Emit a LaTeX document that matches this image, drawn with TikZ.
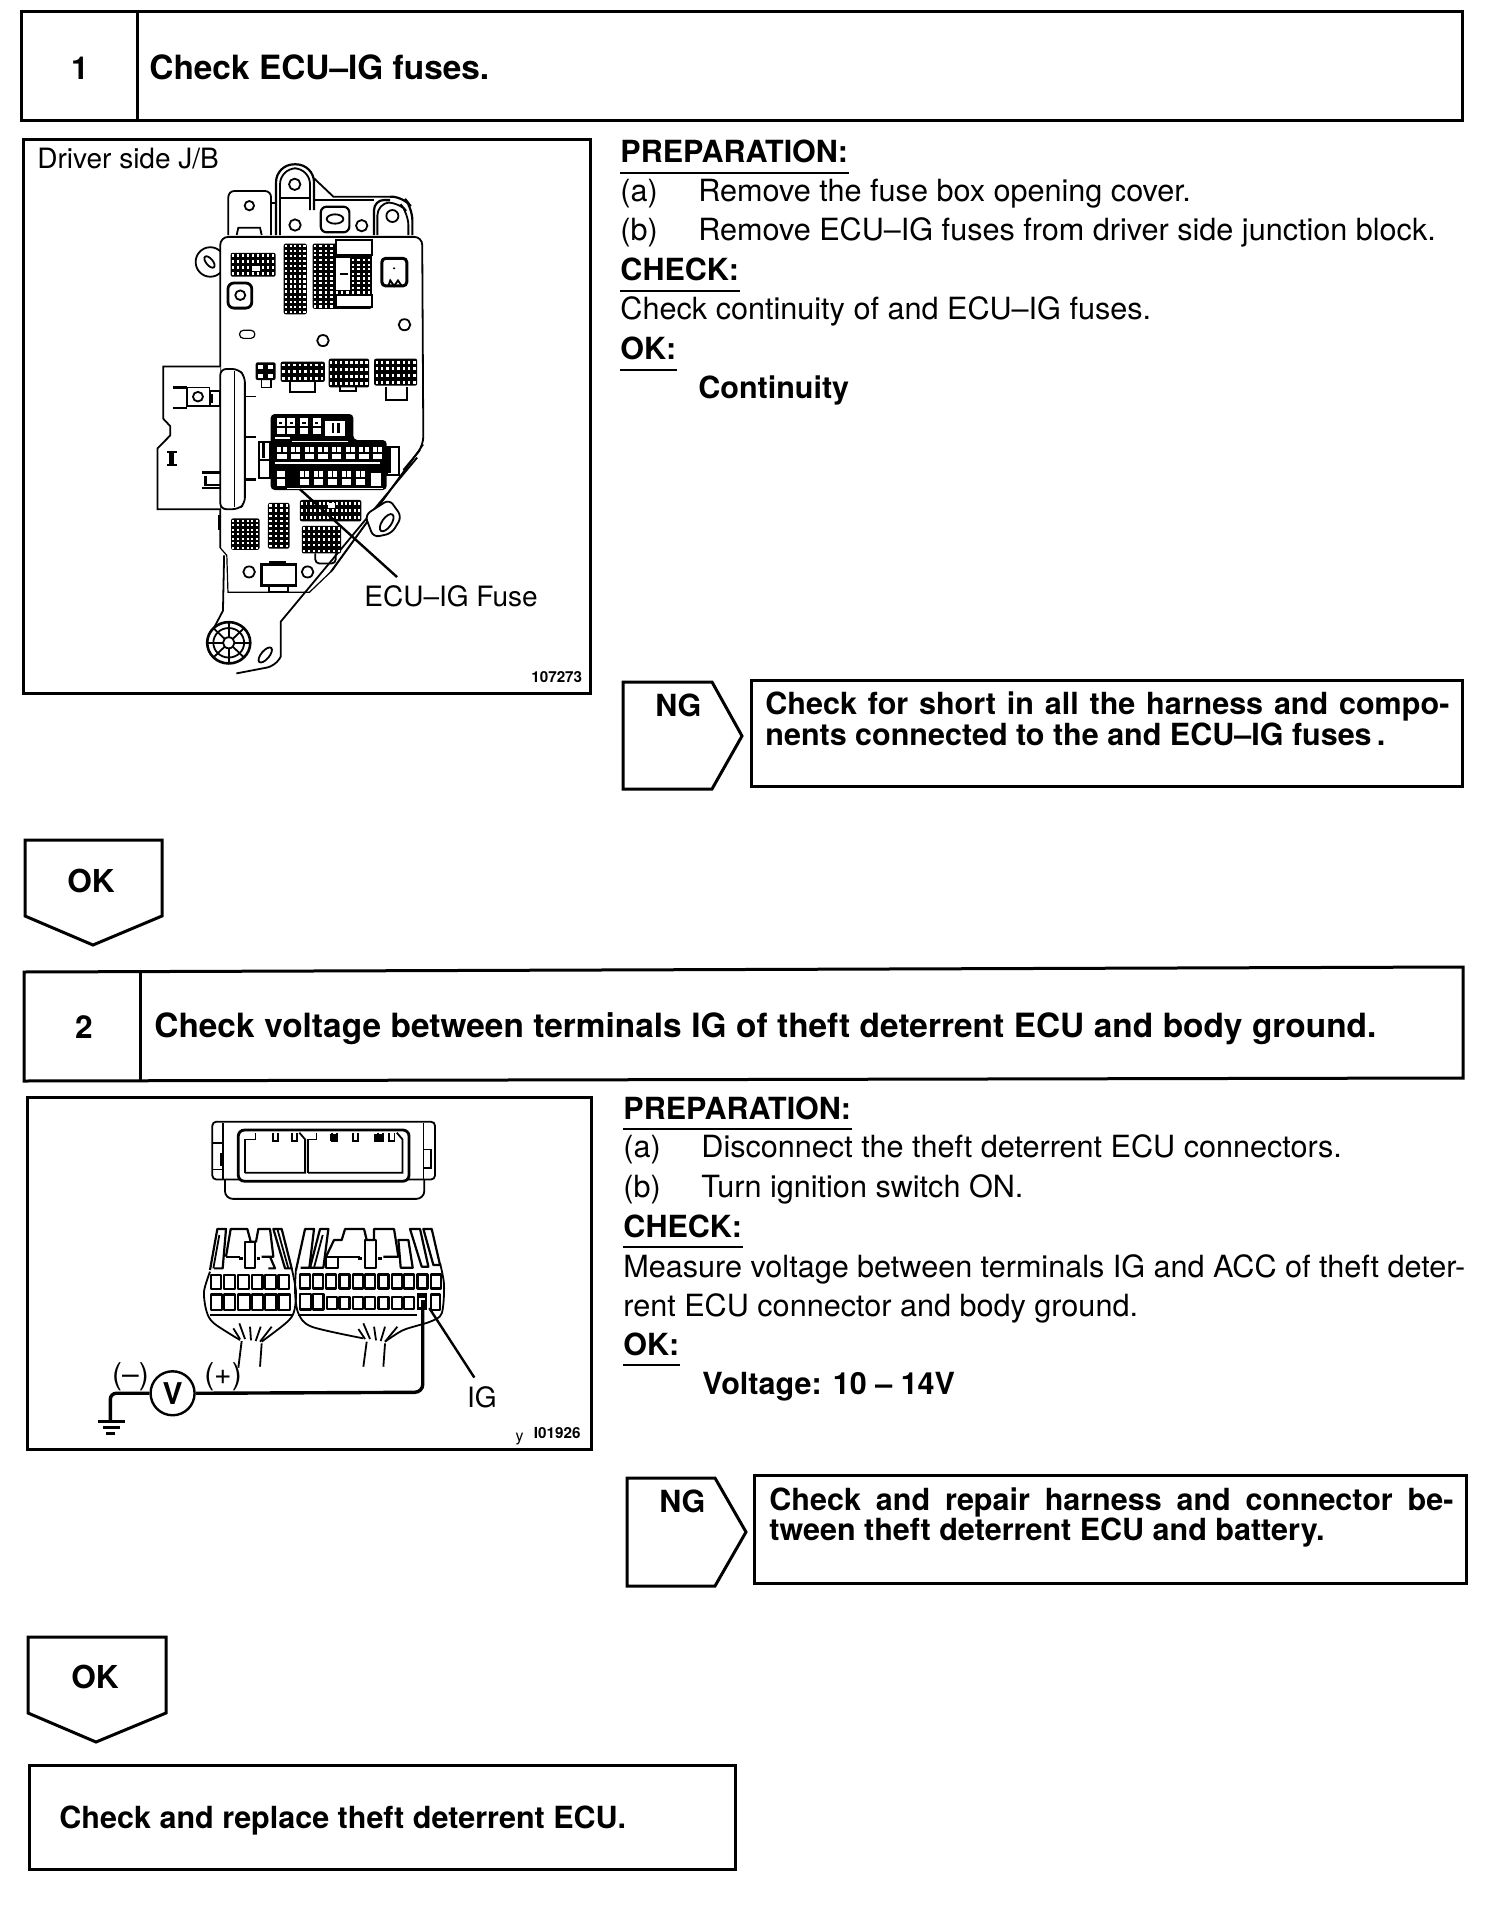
\documentclass[tikz,border=0pt]{standalone}
\usepackage{fontspec}
\usetikzlibrary{shapes.geometric}
\setmainfont{TeX Gyre Heros}
\newcommand{\conblock}[6]{%
 \fill[black,rounded corners=1pt] (#1,#2) rectangle (#3,#4);
 \pgfmathsetmacro\cellw{(#3-#1)/#5}\pgfmathsetmacro\cellh{(#4-#2)/#6}
 \foreach \i in {1,...,#5}{\foreach \j in {1,...,#6}{
   \fill[white] ({#1+(\i-0.72)*\cellw},{#2+(\j-0.72)*\cellh}) rectangle ++({0.44*\cellw},{0.44*\cellh});}}}
\tikzset{
 frame/.style={draw=black,line width=1.5pt,line join=miter},
 txt/.style={anchor=base west,inner sep=0pt,font=\fontsize{15.3pt}{17pt}\selectfont},
 figtxt/.style={anchor=base west,inner sep=0pt,font=\fontsize{14pt}{17pt}\selectfont},
 btxt/.style={anchor=base west,inner sep=0pt,font=\fontsize{15.25pt}{17pt}\selectfont\bfseries},
 ttl/.style={anchor=base west,inner sep=0pt,font=\fontsize{16.7pt}{19pt}\selectfont\bfseries},
 num/.style={anchor=center,inner sep=0pt,font=\fontsize{15.8pt}{17pt}\selectfont\bfseries},
 idtxt/.style={anchor=base west,inner sep=0pt,font=\fontsize{7.6pt}{8pt}\selectfont\bfseries},
 ul/.style={draw=black,line width=1.1pt},
 thin line/.style={draw=black,line width=0.6pt},
 mid line/.style={draw=black,line width=0.9pt},
 fat line/.style={draw=black,line width=1.1pt},
}
\begin{document}
\begin{tikzpicture}[x=0.5pt,y=-0.5pt]
\useasboundingbox (0,0) rectangle (1504,1914);
\fill[white] (0,0) rectangle (1504,1914);
% ---------- step 1
\draw[frame] (21,12) rectangle (1462,121);
\draw[frame] (137,12) -- (137,121);
\node[num] (n1) at (80,68) {1};
\node[ttl] (t1) at (149,80) {Check ECU–IG fuses.};
\draw[frame] (23,140) rectangle (590,693);
\node[figtxt] (ds) at (37,169) {Driver side J/B};
\node[figtxt] (ecufuse) at (364,606) {ECU–IG Fuse};
\node[idtxt] (id1) at (531,682) {107273};
\node[btxt] (p1) at (620,163) {PREPARATION:};
\draw[ul] ([yshift=-5pt]p1.base west) -- ([yshift=-5pt]p1.base east);
\node[txt] (a1) at (620,202) {(a)};
\node[txt] (a1t) at (698,202) {Remove the fuse box opening cover.};
\node[txt] (b1) at (620,241) {(b)};
\node[txt] (b1t) at (698,241) {Remove ECU–IG fuses from driver side junction block.};
\node[btxt] (c1) at (620,281) {CHECK:};
\draw[ul] ([yshift=-5pt]c1.base west) -- ([yshift=-5pt]c1.base east);
\node[txt] (c1t) at (620,320) {Check continuity of and ECU–IG fuses.};
\node[btxt] (o1) at (620,360) {OK:};
\draw[ul] ([yshift=-5pt]o1.base west) -- ([yshift=-5pt]o1.base east);
\node[btxt] (o1t) at (698,399) {Continuity};
\draw[frame] (623,682) -- (712,682) -- (742,736) -- (712,789) -- (623,789) -- cycle;
\node[btxt] (ng1) at (655,716) {NG};
\draw[frame] (751,680) rectangle (1462,786);
\node[btxt] (ng1a) at (765,714) {\makebox[342pt][s]{Check for short in all the harness and compo-}};
\node[btxt] (ng1b) at (765,745) {nents connected to the and ECU–IG fuses\,.};
\draw[frame] (25,840) -- (162,840) -- (162,916) -- (93,945) -- (25,916) -- cycle;
\node[num] (ok1) at (91,881) {OK};
% ---------- step 2
\draw[frame] (24,972) -- (1463,967) -- (1463,1078) -- (24,1081) -- cycle;
\draw[frame] (140,971) -- (140,1081);
\node[num] (n2) at (84,1027) {2};
\node[ttl] (t2) at (154,1037) {\makebox[611pt][s]{Check voltage between terminals IG of theft deterrent ECU and body ground.}};
\draw[frame] (27,1097) rectangle (591,1449);
\node[btxt] (p2) at (623,1119) {PREPARATION:};
\draw[ul] ([yshift=-5pt]p2.base west) -- ([yshift=-5pt]p2.base east);
\node[txt] (a2) at (623,1157) {(a)};
\node[txt] (a2t) at (701,1157) {Disconnect the theft deterrent ECU connectors.};
\node[txt] (b2) at (623,1197) {(b)};
\node[txt] (b2t) at (701,1197) {Turn ignition switch ON.};
\node[btxt] (c2) at (623,1237) {CHECK:};
\draw[ul] ([yshift=-5pt]c2.base west) -- ([yshift=-5pt]c2.base east);
\node[txt] (c2a) at (623,1277) {\makebox[421pt][s]{Measure voltage between terminals IG and ACC of theft deter-}};
\node[txt] (c2b) at (623,1316) {rent ECU connector and body ground.};
\node[btxt] (o2) at (623,1355) {OK:};
\draw[ul] ([yshift=-5pt]o2.base west) -- ([yshift=-5pt]o2.base east);
\node[btxt] (o2t) at (702,1394) {Voltage: 10 – 14V};
\draw[frame] (627,1478) -- (715,1478) -- (746,1532) -- (715,1586) -- (627,1586) -- cycle;
\node[btxt] (ng2) at (659,1512) {NG};
\draw[frame] (754,1475) rectangle (1466,1583);
\node[btxt] (ng2a) at (769,1510) {\makebox[342pt][s]{Check and repair harness and connector be-}};
\node[btxt] (ng2b) at (769,1540) {tween theft deterrent ECU and battery.};
\draw[frame] (28,1637) -- (166,1637) -- (166,1713) -- (96,1742) -- (28,1713) -- cycle;
\node[num] (ok2) at (95,1677) {OK};
\draw[frame] (29,1765) rectangle (735,1869);
\node[btxt] (t3) at (59,1828) {Check and replace theft deterrent ECU.};
% ---------- figure 1: tabs along the top of the block
\begin{scope}[shift={(190,155)},x=0.1667pt,y=-0.1667pt]
 \draw[mid line,rounded corners=3pt] (115,240) -- (115,108) -- (243,108) -- (243,240);
 \draw[mid line] (178,152) circle[radius=14];
 \draw[mid line] (140,240) -- (145,218) -- (210,218) -- (215,240);
 \draw[mid line] (243,145) -- (258,145);
 \draw[fat line,rounded corners=9pt] (258,240) -- (258,28) -- (372,28) -- (372,165);
 \draw[mid line,rounded corners=8pt] (270,240) -- (270,40) -- (360,40) -- (360,165);
 \draw[mid line] (314,88) circle[radius=17];
 \draw[mid line] (315,210) circle[radius=17];
 \draw[mid line] (270,128) -- (360,128);
 \draw[mid line] (372,70) -- (430,125) -- (600,125);
 \draw[mid line] (372,135) -- (552,135);
 \draw[fat line,rounded corners=6pt] (600,125) -- (640,125) -- (667,160) -- (667,240);
 \draw[fat line,rounded corners=5pt] (552,240) -- (552,135) -- (600,135) ;
 \draw[mid line,rounded corners=6pt] (562,240) -- (562,145) -- (625,140) -- (655,175) -- (655,240);
 \draw[mid line] (607,183) circle[radius=18];
 \draw[fat line,rounded corners=3pt] (392,155) rectangle (478,232);
 \draw[mid line] (435,192) ellipse[x radius=25,y radius=14];
 \draw[mid line] (515,212) circle[radius=17];
\end{scope}
% ---------- figure 1: junction block
\begin{scope}[shift={(9.5,131)},x=0.1923pt,y=-0.1845pt]
 % left ear (under the body)
 \draw[mid line,fill=white] (522,355) ellipse[x radius=38,y radius=40];
 % body
 \draw[mid line,rounded corners=4pt,fill=white] (548,1130) -- (548,287) -- (1073,287) -- (1076,850) -- (835,1195);
 \draw[thin line] (1076,850) -- (840,1190) -- (780,1250) -- (568,1250) -- (565,1150) -- (548,1130);
 \draw[mid line] (1060,885) -- (705,1330) -- (705,1425);
 \draw[mid line,rounded corners=4pt] (705,1425) -- (690,1450) -- (590,1470);
 \draw[mid line] (558,1150) -- (555,1300) -- (530,1350);
 \draw[mid line,rotate around={-50:(520,355)}] (520,355) ellipse[x radius=18,y radius=9];
 % top connectors
 \conblock{575}{330}{692}{395}{9}{4}
 \fill[white] (630,365) rectangle (650,380);
 \conblock{713}{305}{773}{497}{5}{14}
 \conblock{788}{305}{942}{482}{11}{14}
 \fill[white,draw=black,line width=0.9pt] (848,295) rectangle (942,335);
 \fill[white,draw=black,line width=0.9pt] (848,445) rectangle (942,478);
 \fill[white] (850,345) rectangle (885,430);
 \draw[fat line] (860,388) -- (880,388);
 \draw[line width=1.5pt,rounded corners=2pt] (968,345) -- (968,420) -- (1033,420) -- (1033,345) -- cycle;
 \draw[mid line] (985,420) -- (990,405) -- (1000,420) -- (1010,405) -- (1020,420);
 \fill (1000,372) circle[radius=3];
 \draw[line width=1.4pt,rounded corners=3pt] (568,412) rectangle (630,480);
 \draw[mid line] (600,445) circle[radius=13];
 \draw[thin line,rounded corners=2pt] (598,540) rectangle (638,562);
 \draw[mid line] (815,568) circle[radius=15];
 \draw[mid line] (1027,525) circle[radius=15];
 % middle row
 \conblock{640}{627}{692}{675}{2}{2}
 \draw[mid line] (655,675) -- (655,695) -- (680,695) -- (680,675);
 \conblock{705}{625}{820}{680}{8}{3}
 \draw[mid line] (730,680) -- (730,708) -- (795,708) -- (795,680);
 \conblock{830}{617}{935}{695}{8}{4}
 \draw[fat line] (860,695) -- (860,705) -- (900,705) -- (900,695);
 \conblock{948}{617}{1060}{690}{8}{4}
 \draw[mid line] (978,695) -- (978,728) -- (1033,728) -- (1033,695);
 % lower connectors
 \conblock{755}{1000}{915}{1058}{14}{3}
 \fill[white] (828,1008) rectangle (845,1022);
 \conblock{672}{1008}{728}{1132}{4}{9}
 \conblock{576}{1050}{650}{1135}{6}{7}
 \conblock{760}{1070}{862}{1145}{8}{5}
 \draw[mid line,rounded corners=2pt] (795,1145) -- (795,1172) -- (848,1172) -- (848,1145);
 \draw[mid line] (623,1195) circle[radius=15];
 \draw[mid line] (775,1195) circle[radius=15];
 \draw[line width=1.1pt,fill=white] (655,1232) -- (655,1175) -- (745,1175) -- (745,1232) -- cycle;
 \fill (675,1165) rectangle (720,1178);
 \draw[mid line] (675,1232) rectangle (725,1250);
 % bracket
 \draw[mid line,fill=white] (548,638) -- (400,638) -- (400,780) -- (418,800) -- (418,825) -- (385,860) -- (385,1025) -- (548,1025);
 \draw[mid line,fill=white,rounded corners=3pt] (548,645) -- (595,645) -- (612,665) -- (612,1010) -- (595,1025) -- (548,1025) -- cycle;
 \draw[thin line] (585,650) -- (585,1020);
 \draw[mid line] (462,695) rectangle (520,745);
 \draw[mid line] (490,720) circle[radius=13];
 \draw[line width=1.2pt] (425,695) -- (462,695) (425,750) -- (462,750);
 \draw[mid line] (522,705) rectangle (546,745);
 \fill (522,712) rectangle (528,738);
 \draw[line width=1.2pt] (410,870) -- (435,870) (410,905) -- (435,905);
 \draw[line width=2.4pt] (422,870) -- (422,905);
 \draw[line width=1.2pt] (500,925) -- (548,925) (500,968) -- (548,968) (510,935) -- (510,960) -- (548,960);
 \draw[thin line] (612,720) -- (640,720);
 \draw[line width=1.2pt] (612,830) -- (640,830) (612,945) -- (640,945);
 \draw[mid line] (545,1040) -- (545,1080);
 % wheel
 \draw[line width=1.3pt,fill=white] (570,1387) circle[radius=56];
 \draw[mid line] (570,1387) circle[radius=40];
 \fill[white,draw=black,line width=0.9pt] (570,1387) circle[radius=15];
 \foreach \a in {0,45,...,315}{\draw[mid line] (570,1387) ++(\a:15) -- ++(\a:40);}
 \draw[mid line,rotate around={50:(665,1420)}] (665,1420) ellipse[x radius=24,y radius=11];
\end{scope}
% ---------- figure 1: fuse block, ear, leader
\begin{scope}[shift={(250,400)},x=0.1667pt,y=-0.1667pt]
 \draw[fat line,fill=white] (28,125) rectangle (60,235);
 \draw[fat line] (28,180) -- (60,180);
 \fill (36,130) rectangle (44,175);
 \draw[fat line,fill=white] (410,140) rectangle (447,225);
 \fill (412,145) rectangle (424,220);
 \fill[rounded corners=2pt] (62,42) -- (310,42) -- (310,120) -- (410,120) -- (410,270) -- (62,270) -- cycle;
 \foreach \x in {80,112,150,188}{\fill[white] (\x,55) rectangle ++(24,48); \fill (\x+7,65) rectangle ++(10,8); \fill (\x,78) rectangle ++(24,6);}
 \fill[white] (225,62) rectangle (285,108);
 \fill (245,70) rectangle (251,100); \fill (262,70) rectangle (270,100);
 \fill[white] (75,112) rectangle (120,117);
 \fill[white] (125,122) rectangle (295,127);
 \foreach \i in {0,...,7}{\fill[white] ({82+\i*41},140) rectangle ++(28,36); \fill ({82+\i*41},155) rectangle ++(28,6); \fill ({94+\i*41},140) rectangle ++(4,15);}
 \fill[white] (75,186) rectangle (390,191);
 \fill[white] (80,212) rectangle (104,258); \fill (80,230) rectangle (104,236);
 \foreach \i in {0,...,4}{\fill[white] ({150+\i*42},212) rectangle ++(28,44); \fill ({150+\i*42},230) rectangle ++(28,6); \fill ({162+\i*42},212) rectangle ++(4,18);}
 \fill[white] (362,218) rectangle (392,258);
 \fill[white] (110,264) rectangle (400,267);
 % right ear and double edge over it
 \draw[mid line,fill=white,rounded corners=3pt] (345,345) -- (418,298) -- (455,350) -- (425,400) -- (370,412) -- cycle;
 \draw[mid line,rotate around={55:(410,368)}] (410,368) ellipse[x radius=30,y radius=14];
 \draw[mid line] (510,150) -- (460,210);
 \coordinate (fusetarget) at (150,268);
 \coordinate (fuseend) at (441,531);
 \draw[line width=1.2pt] (fuseend) -- (fusetarget);
\end{scope}
% ---------- figure 2: upper connector and meter
\begin{scope}[shift={(11,1084.3)},x=0.191pt,y=-0.167pt]
 \draw[mid line,rounded corners=2pt] (527,285) -- (527,112) -- (1110,112) -- (1110,285) -- cycle;
 \draw[thin line] (555,285) -- (555,115) (1080,285) -- (1080,115);
 \draw[mid line,rounded corners=4pt] (560,285) -- (560,343) -- (1082,343) -- (1082,285);
 \draw[line width=1.4pt,rounded corners=3pt,fill=white] (595,137) rectangle (1042,290);
 \draw[mid line] (612,265) -- (612,165) -- (640,165) -- (640,145);
 \draw[mid line] (612,265) -- (770,265) -- (770,165) -- (755,145);
 \draw[mid line] (778,265) -- (778,165) -- (800,165) -- (800,145);
 \draw[mid line] (778,265) -- (1025,265) -- (1025,165) -- (1010,145);
 \foreach \p in {685,735,840,895,960,990}{\draw[mid line] (\p,145) -- (\p,170) -- (\p+14,170) -- (\p+14,145);}
 \fill (835,150) rectangle (855,170);
 \fill (950,150) rectangle (975,172);
 \draw[mid line] (530,175) -- (555,175) -- (555,255) -- (530,255);
 \fill (548,205) rectangle (558,245);
 \draw[mid line] (1080,195) -- (1100,195) -- (1100,250) -- (1080,250);
 \node[draw=black,line width=1.2pt,ellipse,inner sep=0pt,minimum width=22pt,minimum height=22pt,font=\fontsize{15pt}{16pt}\selectfont\bfseries,fill=white] (vm) at (423,925) {V};
 \coordinate (igpin) at (1078,645);
 \coordinate (gnd) at (260,1008);
 \draw[line width=1.7pt,rounded corners=4pt] (vm.east) -- (1078,922) -- (igpin);
 \draw[line width=1.7pt,rounded corners=3pt] (vm.west) -- (260,925) -- (gnd);
 \draw[line width=1.2pt] (228,1010) -- (298,1010) (240,1028) -- (285,1028) (250,1045) -- (272,1045);
 \node[anchor=center,inner sep=0pt,font=\fontsize{15pt}{14pt}\selectfont] (neg) at (313,875) {(–)};
 \node[anchor=center,inner sep=0pt,font=\fontsize{15pt}{14pt}\selectfont] (pos) at (555,875) {(+)};
 \node[anchor=center,inner sep=0pt,font=\fontsize{14pt}{16pt}\selectfont] (iglabel) at (1233,938) {IG};
 \coordinate (igtip) at (1095,670);
 \coordinate (igend) at (1213,878);
 \draw[line width=1.2pt] (igend) -- (igtip);
 \node[idtxt] (id2) at (1368,1060) {I01926};
 \node[anchor=base west,inner sep=0pt,font=\fontsize{8pt}{9pt}\selectfont] (yy) at (1320,1068) {y};
\end{scope}
% ---------- figure 2: plugs
\begin{scope}[shift={(190,1215)},x=0.1667pt,y=-0.1667pt]
 \tikzset{every path/.append style={line join=round}}
 % left plug tabs
 \draw[fat line] (60,165) -- (82,42) -- (108,42) -- (98,160) -- (72,160);
 \draw[mid line] (70,160) -- (88,60);
 \draw[fat line] (108,125) -- (122,42) -- (172,42) -- (182,80) -- (198,80) -- (205,42) -- (240,42) -- (250,125) -- (215,125);
 \draw[fat line] (108,125) -- (150,125);
 \draw[fat line] (165,80) rectangle (195,160);
 \draw[fat line] (250,42) -- (275,42) -- (305,160) -- (285,160) -- cycle;
 \draw[mid line] (262,42) -- (295,160);
 \draw[fat line] (240,125) -- (255,160) -- (235,160);
 \fill (148,125) rectangle (158,135);
 \fill (200,125) rectangle (210,135);
 % right plug tabs
 \draw[fat line] (318,165) -- (345,42) -- (372,42) -- (358,158) -- (332,158);
 \draw[fat line] (360,158) -- (390,42) -- (415,42) -- (400,158) -- cycle;
 \draw[mid line] (372,158) -- (398,60);
 \draw[fat line] (408,125) -- (432,75) -- (455,75) -- (465,42) -- (522,42) -- (530,75) -- (552,75) -- (552,42) -- (612,42) -- (625,125) -- (580,125);
 \draw[fat line] (408,125) -- (510,125);
 \draw[fat line] (408,125) -- (408,158) -- (445,158) -- (445,125);
 \draw[fat line] (525,75) rectangle (558,160);
 \draw[fat line] (625,75) -- (655,75) -- (668,158) -- (632,158) -- cycle;
 \draw[fat line] (660,42) -- (690,42) -- (715,155) -- (695,155) -- cycle;
 \draw[fat line] (700,42) -- (725,42) -- (750,150) -- (730,150) -- cycle;
 \fill (505,125) rectangle (515,135);
 \fill (565,125) rectangle (575,135);
 % cells, left plug
 \foreach \x in {62,102,145,185,225,265}{\draw[line width=1.15pt] (\x,180) rectangle ++(32,42); \draw[line width=1.15pt] (\x,238) rectangle ++(34,47);}
 % cells, right plug
 \foreach \x in {330,368,408,448,488,525,565,605,642,682,722}{\draw[line width=1.15pt] (\x,178) rectangle ++(30,42);}
 \foreach \x in {330,368}{\draw[line width=1.15pt] (\x,236) rectangle ++(32,47);}
 \foreach \x in {410,448,488,525,565,605,642}{\draw[line width=1.15pt] (\x,245) rectangle ++(30,36);}
 \draw[line width=1.15pt] (722,238) rectangle ++(28,47);
 \fill (680,235) rectangle (712,285);
 \fill[white] (688,250) rectangle (704,275);
 \fill (692,255) rectangle (712,285);
 % shells
 \draw[mid line] plot[smooth] coordinates {(60,170) (42,230) (50,290) (72,325) (150,375)};
 \draw[mid line] plot[smooth] coordinates {(305,160) (318,230) (312,290) (290,322) (215,380)};
 \draw[fat line] (60,300) -- (305,300);
 \draw[mid line] (155,378) -- (145,458) (215,385) -- (210,455);
 \foreach \a/\b/\c/\d in {150/372/130/340,165/372/148/325,183/376/180/335,197/378/212/335,210/380/245/335}{\draw[mid line] (\a,\b) -- (\c,\d);}
 \draw[mid line] plot[smooth] coordinates {(318,160) (315,230) (325,295) (365,335) (520,370)};
 \draw[mid line] plot[smooth] coordinates {(585,380) (640,345) (720,320) (755,295) (762,210) (750,145)};
 \draw[fat line] (325,300) -- (680,300);
 \draw[mid line] (530,380) -- (520,455) (585,385) -- (580,455);
 \foreach \a/\b/\c/\d in {525/372/505/342,540/372/520/325,558/376/552/335,572/378/585/335,585/380/622/335}{\draw[mid line] (\a,\b) -- (\c,\d);}
\end{scope}
\end{tikzpicture}
\end{document}
